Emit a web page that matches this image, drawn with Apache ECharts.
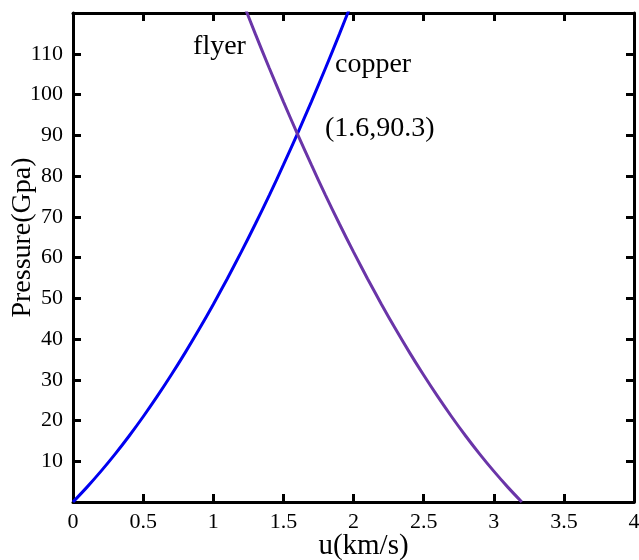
<!DOCTYPE html>
<html>
<head>
<meta charset="utf-8">
<script src="https://cdn.jsdelivr.net/npm/echarts@6/dist/echarts.min.js"></script>
<style>
  html, body { margin: 0; padding: 0; background: #fff; }
  #chart { width: 639px; height: 560px; }
</style>
</head>
<body>
<div id="chart"></div>
<script>
	// values (u in km/s, P in GPa)
	var copperU = [0, 0.1, 0.2, 0.3, 0.4, 0.5, 0.6, 0.7, 0.8, 0.9, 1.0,
		1.1, 1.2, 1.3, 1.4, 1.5, 1.6, 1.7, 1.8, 1.9, 2.0];
	var copperP = [0, 3.65, 7.57, 11.75, 16.2, 20.92, 25.9, 31.15, 36.66, 42.44, 48.49,
		54.8, 61.38, 68.22, 75.33, 82.71, 90.35, 98.26, 106.44, 114.87, 123.58];
	var flyerU = [1.2, 1.3, 1.4, 1.5, 1.6, 1.7, 1.8, 1.9, 2.0, 2.1, 2.2,
		2.3, 2.4, 2.5, 2.6, 2.7, 2.8, 2.9, 3.0, 3.1, 3.2];
	var flyerP = [123.58, 114.87, 106.44, 98.26, 90.35, 82.71, 75.33, 68.22, 61.38, 54.8, 48.49,
		42.44, 36.66, 31.15, 25.9, 20.92, 16.2, 11.75, 7.57, 3.65, 0];
	var notes = [
		{ text: 'flyer', u: 0.856, p: 111.7 },
		{ text: 'copper', u: 1.868, p: 107.3 },
		{ text: '(1.6,90.3)', u: 1.797, p: 91.5 }
	];

	var myChart = echarts.init(document.getElementById('chart'));

	function pairs(xs, ys) {
		var out = [];
		for (var i = 0; i < xs.length; i++) {
			out.push([xs[i], ys[i]]);
		}
		return out;
	}

	var font = 'Liberation Serif';
	function axisLine() { return { show: true, onZero: false, lineStyle: { color: '#000', width: 3 } }; }
	function tick() { return { show: true, inside: true, length: 8, lineStyle: { color: '#000', width: 3 } }; }

	myChart.setOption({
		animation: false,
		grid: { left: 73, right: 5, top: 13, bottom: 58, containLabel: false, outerBoundsMode: 'none' },
		xAxis: [
			{
				type: 'value', min: 0, max: 4, interval: 0.5,
				name: 'u(km/s)', nameLocation: 'middle', nameGap: 30, nameMoveOverlap: false,
				nameTextStyle: { fontFamily: font, fontSize: 29, color: '#000', padding: [0, 0, 0, 20] },
				axisLine: axisLine(), axisTick: tick(),
				axisLabel: { fontFamily: font, fontSize: 22, color: '#000', margin: 9 },
				splitLine: { show: false }
			},
			{
				type: 'value', position: 'top', min: 0, max: 4, interval: 0.5,
				axisLine: axisLine(), axisTick: tick(),
				axisLabel: { show: false }, splitLine: { show: false }
			}
		],
		yAxis: [
			{
				type: 'value', min: 0, max: 120, interval: 10,
				name: 'Pressure(Gpa)', nameLocation: 'middle', nameGap: 36, nameMoveOverlap: false,
				nameTextStyle: { fontFamily: font, fontSize: 28, color: '#000', padding: [0, 0, 0, 40] },
				axisLine: axisLine(), axisTick: tick(),
				axisLabel: {
					fontFamily: font, fontSize: 22, color: '#000', margin: 10,
					formatter: function (v) { return (v === 0 || v === 120) ? '' : v; }
				},
				splitLine: { show: false }
			},
			{
				type: 'value', position: 'right', min: 0, max: 120, interval: 10,
				axisLine: axisLine(), axisTick: tick(),
				axisLabel: { show: false }, splitLine: { show: false }
			}
		],
		series: [
			{
				name: 'copper', type: 'line', data: pairs(copperU, copperP),
				smooth: 0.3, showSymbol: false, clip: true,
				lineStyle: { color: '#0000f0', width: 3 }
			},
			{
				name: 'flyer', type: 'line', data: pairs(flyerU, flyerP),
				smooth: 0.3, showSymbol: false, clip: true,
				lineStyle: { color: '#6a35a8', width: 3 }
			},
			{
				type: 'scatter', symbolSize: 0, silent: true,
				itemStyle: { opacity: 1 },
				data: notes.map(function (n) { return { value: [n.u, n.p], name: n.text }; }),
				label: {
					show: true, position: 'right', distance: 0,
					formatter: '{b}', fontFamily: font, fontSize: 28, color: '#000000'
				}
			}
		]
	});
</script>
</body>
</html>
